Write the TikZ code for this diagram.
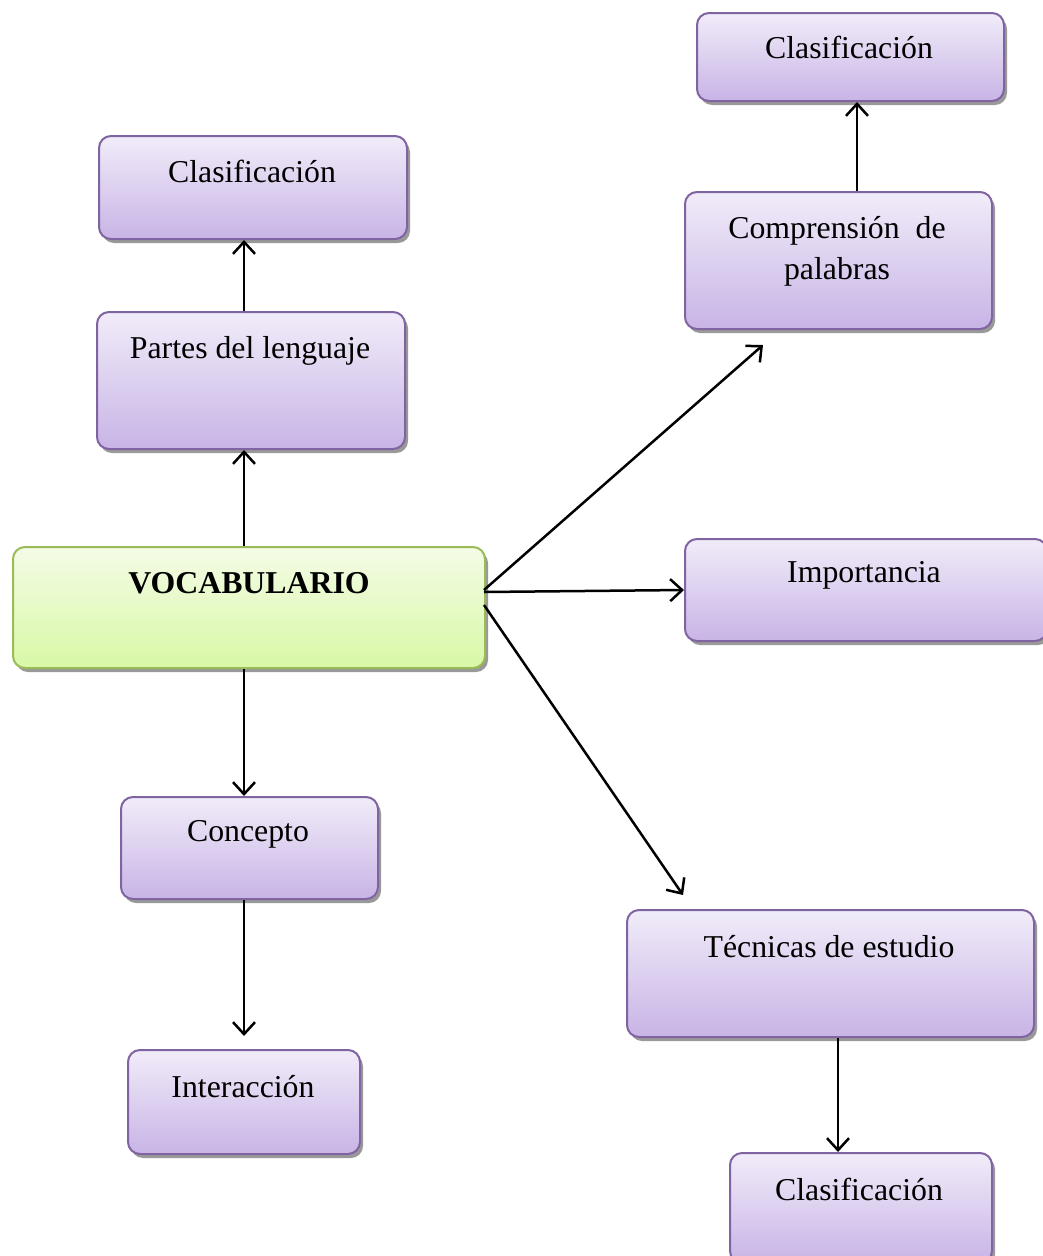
\documentclass[tikz,border=0pt]{standalone}
\usepackage{fontspec}
\setmainfont{Liberation Serif}
\usetikzlibrary{arrows.meta,shadows}
\definecolor{pborder}{HTML}{8064A2}
\definecolor{ptop}{HTML}{F1ECF9}
\definecolor{pbot}{HTML}{C8B4E6}
\definecolor{gborder}{HTML}{9BBB59}
\definecolor{gtop}{HTML}{F4FCE6}
\definecolor{gbot}{HTML}{D8F8A6}
\tikzset{
  boxbase/.style={rounded corners=12pt, line width=2pt, inner sep=0pt,
    drop shadow={shadow xshift=3pt, shadow yshift=-4pt, fill=black!40, opacity=1}},
  pbox/.style={boxbase, draw=pborder, top color=ptop, bottom color=pbot},
  gbox/.style={boxbase, draw=gborder, top color=gtop, bottom color=gbot},
  lbl/.style={font=\fontsize{31.8}{41}\selectfont, align=center, inner sep=0pt},
  arr/.style={line width=2.5pt, -{Straight Barb[length=12pt,width=22pt,line width=2.5pt]}}
}
\newcommand{\mybox}[6]{% style, name, x1, y1, x2, y2
  \node[#1, minimum width={#5-#3}, minimum height={#6-#4}, anchor=north west] (#2) at (#3,#4) {};}
\begin{document}
\begin{tikzpicture}[x=1pt,y=-1pt]
\useasboundingbox (0,0) rectangle (1043,1256);
% boxes
\mybox{pbox}{clsA}{696}{12}{1003}{100}
\mybox{pbox}{comp}{684}{191}{991}{328}
\mybox{pbox}{clsB}{98}{135}{406}{238}
\mybox{pbox}{part}{96}{311}{404}{448}
\mybox{gbox}{voc}{12}{546}{484}{667}
\mybox{pbox}{impo}{684}{538}{1046}{640}
\mybox{pbox}{conc}{120}{796}{377}{898}
\mybox{pbox}{inte}{127}{1049}{359}{1153}
\mybox{pbox}{tecn}{626}{909}{1033}{1036}
\mybox{pbox}{clsC}{729}{1152}{991}{1262}
% labels
\node[lbl] (tclsA) at (849,47) {Clasificación};
\node[lbl] (tcomp) at (837,251) {Comprensión\ \ de\\palabras};
\node[lbl] (tclsB) at (252,171) {Clasificación};
\node[lbl] (tpart) at (250,351) {Partes del lenguaje};
\node[lbl, font=\fontsize{31.8}{41}\selectfont\bfseries] (tvoc) at (249,583) {VOCABULARIO};
\node[lbl] (timpo) at (864,575) {Importancia};
\node[lbl] (tconc) at (248,834) {Concepto};
\node[lbl] (tinte) at (243,1087) {Interacción};
\node[lbl] (ttecn) at (829,947) {Técnicas de estudio};
\node[lbl] (tclsC) at (859,1189) {Clasificación};
% free ends
\coordinate (vR1) at (484,590);
\coordinate (vR2) at (484,592);
\coordinate (vR3) at (484,605);
\coordinate (eComp) at (763,345);
\coordinate (eTecn) at (683,895);
% connectors
\draw[arr] (part.north -| 244,0) -- (clsB.south -| 244,0);
\draw[arr] (voc.north -| 244,0) -- (part.south -| 244,0);
\draw[arr] (voc.south -| 244,0) -- (conc.north -| 244,0);
\draw[arr, shorten >=13pt] (conc.south -| 244,0) -- (inte.north -| 244,0);
\draw[arr] (vR1) -- (eComp);
\draw[arr] (vR2) -- (impo.west |- 0,590);
\draw[arr] (vR3) -- (eTecn);
\draw[arr] (tecn.south -| 838,0) -- (clsC.north -| 838,0);
\draw[arr] (comp.north -| 857,0) -- (clsA.south -| 857,0);
\end{tikzpicture}
\end{document}
